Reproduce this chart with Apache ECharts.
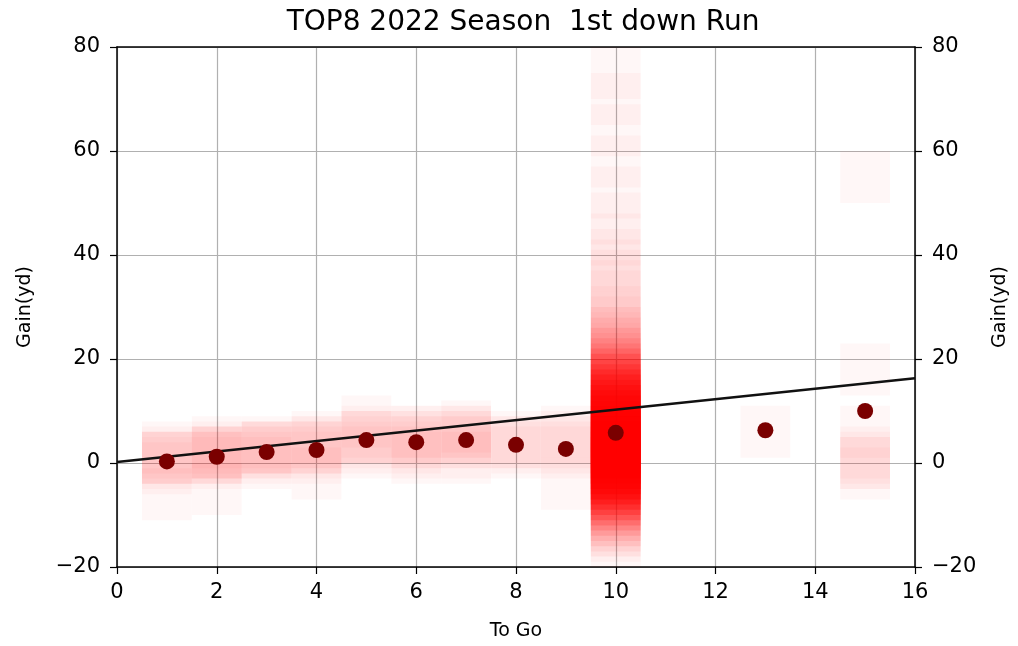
<!DOCTYPE html>
<html><head><meta charset="utf-8">
<script src="https://cdn.jsdelivr.net/npm/echarts@6/dist/echarts.min.js"></script>
<style>html,body{margin:0;padding:0;background:#fff}#c{width:1018px;height:646px}</style>
</head><body><div id="c"></div>
<script>
// ---- data ----
const titleText = 'TOP8 2022 Season  1st down Run';
const xName = 'To Go';
const yName = 'Gain(yd)';
const toGo     = [1, 2, 3, 4, 5, 6, 7, 8, 9, 10, 13, 15];
const meanGain = [0.3, 1.2, 2.1, 2.5, 4.4, 4.0, 4.4, 3.5, 2.7, 5.8, 6.3, 10.0];
// individual play gains per "to go" distance
const plays1  = [1, 1, 1, 0, 2, -6, 3, -1, 1];
const plays2  = [2, 2, 1, 1, 2, 3, -5, 0, 4, 1, 2];
const plays3  = [3, 3, 2, 3, 2, 1, 4, 0, 3];
const plays4  = [4, 3, 3, 4, 2, 1, 5, -2, 3];
const plays5  = [5, 5, 4, 6, 8, 2, 3, 5];
const plays6  = [5, 4, 6, 1, 3, 4, 6, 2, 5];
const plays7  = [6, 5, 7, 4, 2, 6, 1, 4, 5];
const plays8  = [4, 3, 5, 2, 4];
const plays9  = [3, 2, 4, -4, 5, 6];
const plays13 = [6];
const plays15 = [55, 18, 0, 1, -2, 0, 2, 6];
// 1st & 10: gain value and number of plays with that gain
const gains10  = [-15,-14,-13,-12,-11,-10,-9,-8,-7,-6,-5,-4,-3,-2,-1,0,1,2,3,4,5,6,7,8,9,10,11,12,13,14,15,16,17,18,19,20,21,22,23,24,25,26,27,28,29,30,32,34,36,38,40,43,47,52,58,64,70,75];
const counts10 = [1,1,2,2,3,3,4,5,6,8,10,12,16,20,22,24,24,24,24,22,21,19,17,16,15,14,12,11,10,9,8,7,6,5,4,3,3,2,2,2,2,1,1,1,1,1,1,1,1,1,1,1,1,1,1,1,1,1];
const trendX = [0, 16];
const trendY = [0.2, 16.3];

// ---- build series data ----
const PLAY_ALPHA = 0.03, HALF_W = 0.5, HALF_H = 5;
const groups = [[1,plays1],[2,plays2],[3,plays3],[4,plays4],[5,plays5],[6,plays6],[7,plays7],[8,plays8],[9,plays9],[13,plays13],[15,plays15]];
const rectData = [];
groups.forEach(([x, arr]) => {
  const m = {};
  arr.forEach(g => { m[g] = (m[g] || 0) + 1; });
  Object.keys(m).forEach(g => rectData.push([x, +g, m[g]]));
});
gains10.forEach((g, i) => rectData.push([10, g, counts10[i]]));

const dotData = toGo.map((x, i) => [x, meanGain[i]]);
const lineData = trendX.map((x, i) => [x, trendY[i]]);

function renderItem(params, api) {
  const x = api.value(0), g = api.value(1), n = api.value(2);
  const p1 = api.coord([x - HALF_W, g + HALF_H]);
  const p2 = api.coord([x + HALF_W, g - HALF_H]);
  const op = 1 - Math.pow(1 - PLAY_ALPHA, n);
  return { type: 'rect', shape: { x: p1[0], y: p1[1], width: p2[0] - p1[0], height: p2[1] - p1[1] },
           style: { fill: 'rgba(255,0,0,' + op.toFixed(4) + ')' } };
}

const FONT = 'DejaVu Sans';
const minus = v => String(v).replace('-', '\u2212');
const yAxisCommon = {
  type: 'value', min: -20, max: 80, interval: 20,
  nameLocation: 'middle', nameRotate: 90,
  nameTextStyle: { fontFamily: FONT, fontSize: 19, color: '#000' },
  axisLine: { show: true, onZero: false, lineStyle: { color: '#000', width: 1.5 } },
  axisTick: { show: true, inside: false, length: 7, lineStyle: { color: '#000', width: 1.2 } },
  axisLabel: { fontFamily: FONT, fontSize: 21, color: '#000', margin: 17, formatter: minus }
};

const chart = echarts.init(document.getElementById('c'), null, { renderer: 'canvas' });
chart.setOption({
  animation: false,
  backgroundColor: '#fff',
  title: { text: titleText, left: 518, textAlign: 'center', top: 4,
           textStyle: { fontFamily: FONT, fontSize: 28, fontWeight: 'normal', color: '#000' } },
  grid: { left: 117, right: 97, top: 47, bottom: 77 },
  xAxis: [{
    type: 'value', min: 0, max: 16, interval: 2,
    name: xName, nameLocation: 'middle', nameGap: 55,
    nameTextStyle: { fontFamily: FONT, fontSize: 19, color: '#000' },
    axisLine: { show: true, onZero: false, lineStyle: { color: '#000', width: 1.5 } },
    axisTick: { show: true, inside: false, length: 7, lineStyle: { color: '#000', width: 1.2 } },
    axisLabel: { fontFamily: FONT, fontSize: 21, color: '#000', margin: 15, formatter: minus },
    splitLine: { show: true, lineStyle: { color: '#b0b0b0', width: 1.2 } }
  }, {
    type: 'value', min: 0, max: 16, position: 'top',
    axisLine: { show: true, onZero: false, lineStyle: { color: '#000', width: 1.5 } },
    axisTick: { show: false }, axisLabel: { show: false }, splitLine: { show: false }
  }],
  yAxis: [Object.assign({}, yAxisCommon, {
    position: 'left', name: yName, nameGap: 82,
    splitLine: { show: true, lineStyle: { color: '#b0b0b0', width: 1.2 } }
  }), Object.assign({}, yAxisCommon, {
    position: 'right', name: yName, nameGap: 76,
    splitLine: { show: false }
  })],
  series: [{
    type: 'custom', renderItem: renderItem, data: rectData, z: 1,
    encode: { x: 0, y: 1 }, silent: true
  }, {
    type: 'line', data: lineData, symbol: 'none', z: 3,
    lineStyle: { color: '#111', width: 2.4 }
  }, {
    type: 'scatter', data: dotData, symbolSize: 16, z: 4,
    itemStyle: { color: '#7a0000', opacity: 1 }
  }]
});
</script>
</body></html>
